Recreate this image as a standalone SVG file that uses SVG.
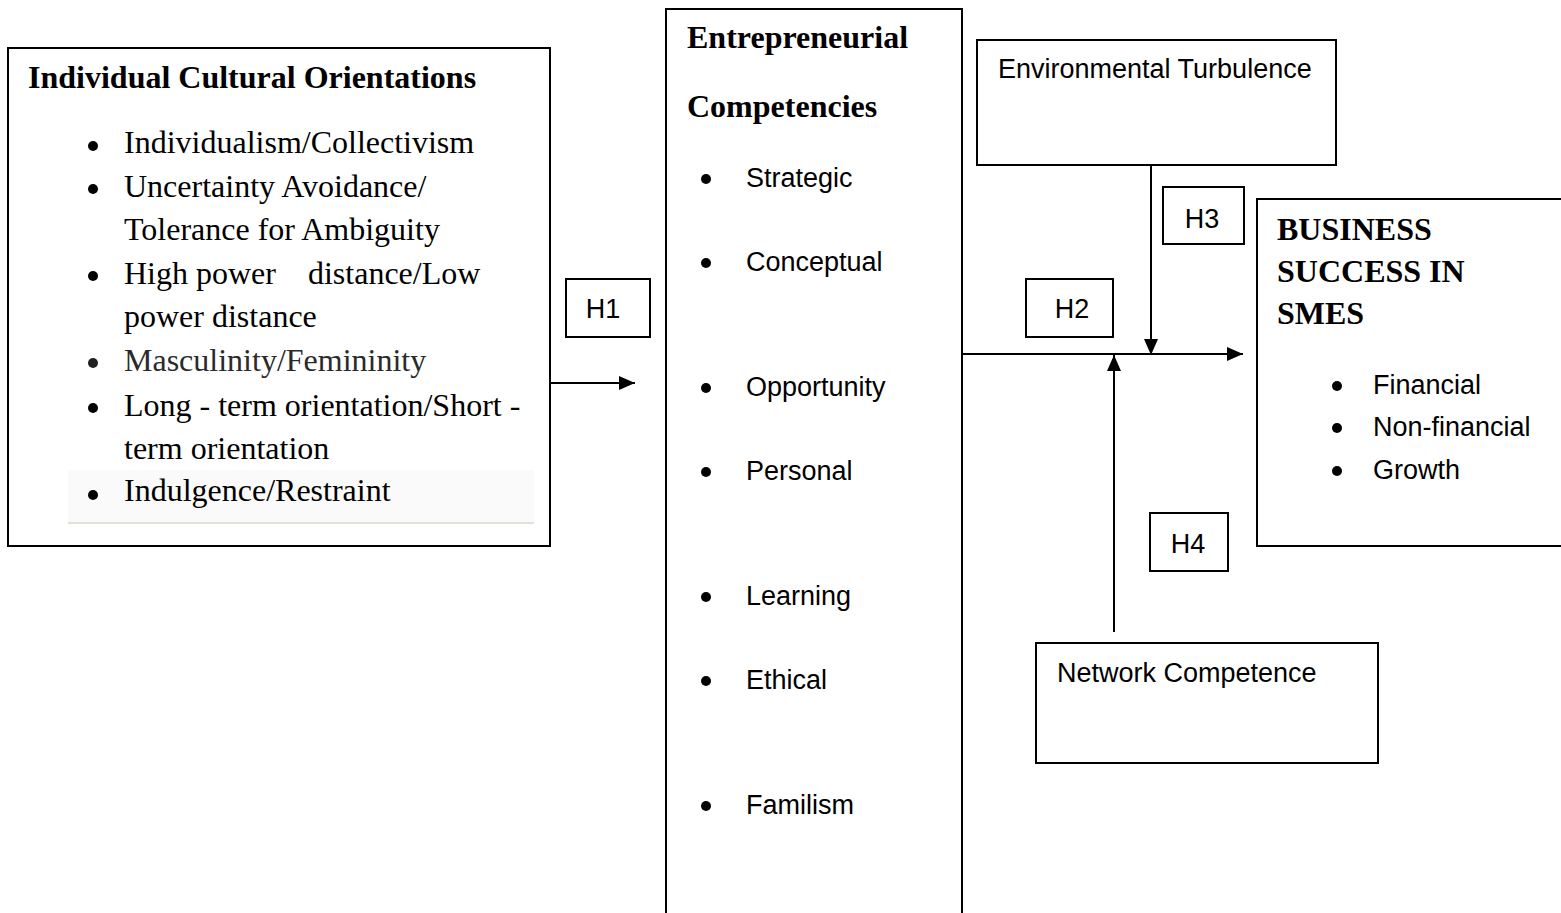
<svg xmlns="http://www.w3.org/2000/svg" width="1561" height="913" viewBox="0 0 1561 913">
<defs>
<style>
.box{fill:#fff;stroke:#000;stroke-width:2}
.hd{font-family:"Liberation Serif","Times New Roman",serif;font-weight:bold;font-size:32px;fill:#000}
.sr{font-family:"Liberation Serif","Times New Roman",serif;font-size:32px;fill:#000}
.sn{font-family:"Liberation Sans",Arial,sans-serif;font-size:27px;fill:#000}
.dot{fill:#000}
.ln{stroke:#000;stroke-width:2;fill:none}
</style>
<marker id="ah" viewBox="0 0 16 14" refX="16" refY="7" markerWidth="16" markerHeight="14" markerUnits="userSpaceOnUse" orient="auto">
<path d="M0,0 L16,7 L0,14 Z" fill="#000"/>
</marker>
</defs>
<rect width="1561" height="913" fill="#fff"/>

<g id="connectors">
<line class="ln" x1="551" y1="383" x2="635" y2="383" marker-end="url(#ah)"/>
<line class="ln" x1="962" y1="354" x2="1243" y2="354" marker-end="url(#ah)"/>
<line class="ln" x1="1151" y1="166" x2="1151" y2="355" marker-end="url(#ah)"/>
<line class="ln" x1="1114" y1="632" x2="1114" y2="355" marker-end="url(#ah)"/>
</g>

<g id="cultural">
<rect class="box" x="8" y="48" width="542" height="498"/>
<rect x="68" y="470" width="466" height="52" fill="#fafafa"/>
<line x1="68" y1="523" x2="534" y2="523" stroke="#e4e0d4" stroke-width="2"/>
<text class="hd" x="28" y="88">Individual Cultural Orientations</text>
<circle class="dot" cx="93" cy="146" r="5"/>
<text class="sr" x="124" y="153">Individualism/Collectivism</text>
<circle class="dot" cx="93" cy="189" r="5"/>
<text class="sr" x="124" y="197">Uncertainty Avoidance/</text>
<text class="sr" x="124" y="240">Tolerance for Ambiguity</text>
<circle class="dot" cx="93" cy="276" r="5"/>
<text class="sr" x="124" y="284" xml:space="preserve">High power    distance/Low</text>
<text class="sr" x="124" y="327">power distance</text>
<circle cx="93" cy="363" r="5" fill="#222"/>
<text class="sr" x="124" y="371" style="fill:#2a2a2a">Masculinity/Femininity</text>
<circle class="dot" cx="93" cy="408" r="5"/>
<text class="sr" x="124" y="416">Long - term orientation/Short -</text>
<text class="sr" x="124" y="459">term orientation</text>
<circle class="dot" cx="93" cy="495" r="5"/>
<text class="sr" x="124" y="501">Indulgence/Restraint</text>
</g>

<g id="h1">
<rect class="box" x="566" y="279" width="84" height="58"/>
<text class="sn" x="603" y="318" text-anchor="middle">H1</text>
</g>

<g id="competencies">
<rect class="box" x="666" y="9" width="296" height="910"/>
<text class="hd" x="687" y="48">Entrepreneurial</text>
<text class="hd" x="687" y="117">Competencies</text>
<circle class="dot" cx="706" cy="179" r="5"/>
<text class="sn" x="746" y="187">Strategic</text>
<circle class="dot" cx="706" cy="263" r="5"/>
<text class="sn" x="746" y="271">Conceptual</text>
<circle class="dot" cx="706" cy="388" r="5"/>
<text class="sn" x="746" y="396">Opportunity</text>
<circle class="dot" cx="706" cy="472" r="5"/>
<text class="sn" x="746" y="480">Personal</text>
<circle class="dot" cx="706" cy="597" r="5"/>
<text class="sn" x="746" y="605">Learning</text>
<circle class="dot" cx="706" cy="681" r="5"/>
<text class="sn" x="746" y="689">Ethical</text>
<circle class="dot" cx="706" cy="806" r="5"/>
<text class="sn" x="746" y="814">Familism</text>
</g>

<g id="turbulence">
<rect class="box" x="977" y="40" width="359" height="125"/>
<text class="sn" x="998" y="78">Environmental Turbulence</text>
</g>

<g id="h3">
<rect class="box" x="1163" y="187" width="81" height="57"/>
<text class="sn" x="1202" y="228" text-anchor="middle">H3</text>
</g>

<g id="h2">
<rect class="box" x="1026" y="279" width="87" height="58"/>
<text class="sn" x="1072" y="318" text-anchor="middle">H2</text>
</g>

<g id="h4">
<rect class="box" x="1150" y="513" width="78" height="58"/>
<text class="sn" x="1188" y="553" text-anchor="middle">H4</text>
</g>

<g id="network">
<rect class="box" x="1036" y="643" width="342" height="120"/>
<text class="sn" x="1057" y="682">Network Competence</text>
</g>

<g id="success">
<rect class="box" x="1257" y="199" width="310" height="347"/>
<text class="hd" x="1277" y="240">BUSINESS</text>
<text class="hd" x="1277" y="282">SUCCESS IN</text>
<text class="hd" x="1277" y="324">SMES</text>
<circle class="dot" cx="1337" cy="386" r="5"/>
<text class="sn" x="1373" y="394">Financial</text>
<circle class="dot" cx="1337" cy="428" r="5"/>
<text class="sn" x="1373" y="436">Non-financial</text>
<circle class="dot" cx="1337" cy="471" r="5"/>
<text class="sn" x="1373" y="479">Growth</text>
</g>
</svg>
